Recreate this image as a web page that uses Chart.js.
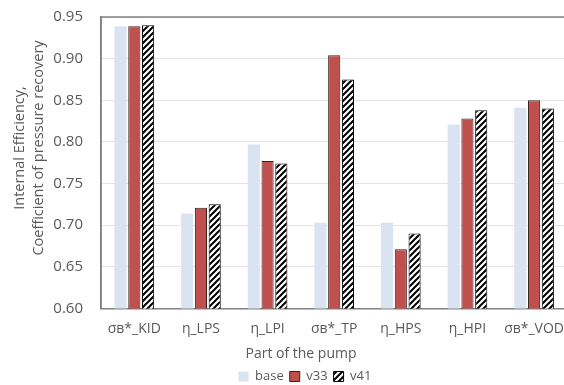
<!DOCTYPE html>
<html>
<head>
<meta charset="utf-8">
<script src="https://cdn.jsdelivr.net/npm/chart.js@4.4.0/dist/chart.umd.min.js"></script>
<style>
  body { margin: 0; background: #fff; overflow: hidden; }
  #wrap { width: 568px; height: 393px; }
</style>
</head>
<body>
<div id="wrap"><canvas id="mychart"></canvas></div>
<script>
const parts = ['σв*_KID', 'η_LPS', 'η_LPI', 'σв*_TP', 'η_HPS', 'η_HPI', 'σв*_VOD'];
const base = [0.939, 0.714, 0.797, 0.703, 0.703, 0.821, 0.841];
const v33 = [0.939, 0.721, 0.777, 0.904, 0.671, 0.828, 0.850];
const v41 = [0.940, 0.725, 0.774, 0.875, 0.690, 0.838, 0.840];
const yTicks = [0.60, 0.65, 0.70, 0.75, 0.80, 0.85, 0.90, 0.95];
const yTitle = ['Internal Efficiency,', 'Coefficient of pressure recovery'];

const font = 'Open Sans';
const grey = '#595959';

// diagonal hatch for v41
function hatch() {
    const c = document.createElement('canvas');
    c.width = 6; c.height = 6;
    const g = c.getContext('2d');
    g.fillStyle = '#fff';
    g.fillRect(0, 0, 6, 6);
    g.strokeStyle = '#000';
    g.lineWidth = 2;
    g.beginPath();
    g.moveTo(-1, 7); g.lineTo(7, -1);
    g.moveTo(-4, 4); g.lineTo(4, -4);
    g.moveTo(2, 10); g.lineTo(10, 2);
    g.stroke();
    return g.createPattern(c, 'repeat');
}

const frame = {
    id: 'frame',
    afterLayout(chart) {
        // x title and legend sit a little right of the canvas centre
        chart.titleBlock.left += 17; chart.titleBlock.right += 17;
        chart.legend.left += 21; chart.legend.right += 21;
    },
    afterDraw(chart) {
        const a = chart.chartArea, g = chart.ctx;
        g.save();
        g.strokeStyle = '#808080';
        g.lineWidth = 1.5;
        g.beginPath();
        g.moveTo(a.left, a.bottom);
        g.lineTo(a.left, a.top);
        g.lineTo(a.right, a.top);
        g.stroke();
        // y title, a bit above the middle of the axis like the original
        g.translate(20, 148);
        g.rotate(-Math.PI / 2);
        g.fillStyle = grey;
        g.font = '14.5px "' + font + '"';
        g.textAlign = 'center';
        g.textBaseline = 'middle';
        yTitle.forEach((t, i) => g.fillText(t, 0, i * 19));
        g.restore();
    }
};

new Chart(document.querySelector('#mychart'), {
    type: 'bar',
    data: {
        labels: parts,
        datasets: [
            { label: 'base', data: base, backgroundColor: '#dae3f1', borderWidth: 0 },
            { label: 'v33', data: v33, backgroundColor: '#c0504d', borderColor: '#3b2020', borderWidth: 1 },
            { label: 'v41', data: v41, backgroundColor: hatch(), borderColor: '#000', borderWidth: 1 }
        ]
    },
    options: {
        responsive: true,
        maintainAspectRatio: false,
        animation: false,
        layout: { padding: 0 },
        datasets: { bar: { categoryPercentage: 0.62, barPercentage: 0.88 } },
        scales: {
            x: {
                grid: { display: false },
                border: { color: '#808080', width: 1.5 },
                ticks: { color: grey, font: { family: font, size: 14 }, maxRotation: 0, padding: 4 }
            },
            y: {
                min: 0.60, max: 0.95,
                afterBuildTicks(axis) { axis.ticks = yTicks.map(v => ({ value: v })); },
                afterFit(axis) { axis.width = 101; axis.paddingTop = 17; },
                grid: { color: '#e4e4e4', drawTicks: false },
                border: { color: '#808080', width: 1.5 },
                ticks: { color: grey, font: { family: font, size: 15 }, padding: 18, callback: v => v.toFixed(2) }
            }
        },
        plugins: {
            title: {
                display: true, position: 'bottom', weight: 500,
                text: 'Part of the pump', color: grey,
                font: { family: font, size: 14, weight: 'normal' },
                padding: { top: 4, bottom: 2 }
            },
            legend: {
                position: 'bottom',
                labels: { color: grey, font: { family: font, size: 13 }, boxWidth: 10, boxHeight: 10, padding: 6 }
            },
            tooltip: { enabled: false }
        }
    },
    plugins: [frame]
});
</script>
</body>
</html>
